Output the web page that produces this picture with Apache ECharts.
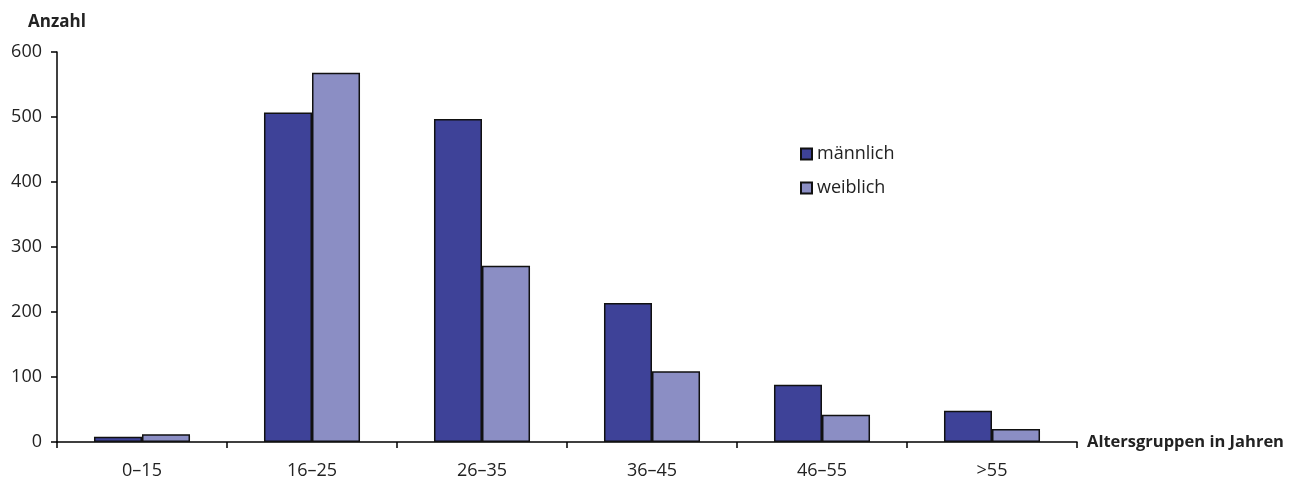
<!DOCTYPE html>
<html><head><meta charset="utf-8">
<script src="https://cdn.jsdelivr.net/npm/echarts@6/dist/echarts.min.js"></script>
<style>html,body{margin:0;padding:0;background:#fff}#c{width:1297px;height:479px}</style>
</head><body><div id="c"></div>
<script>
const categories = ['0–15','16–25','26–35','36–45','46–55','>55'];
const maennlich = [8, 507, 497, 214, 88, 48];
const weiblich = [12, 568, 271, 109, 42, 20];
const yTicks = [0, 100, 200, 300, 400, 500, 600];

const font = 'Open Sans';
const chart = echarts.init(document.getElementById('c'));
chart.setOption({
  animation: false,
  textStyle: { fontFamily: font },
  grid: { left: 57, right: 220, top: 52, bottom: 37, containLabel: false, outerBoundsMode: 'none' },
  legend: {
    orient: 'vertical', left: 795, top: 140, itemWidth: 11, itemHeight: 11, itemGap: 16,
    icon: 'rect',
    textStyle: { fontFamily: font, fontSize: 18, color: '#222' },
    data: ['männlich', 'weiblich']
  },
  xAxis: {
    type: 'category', data: categories,
    name: 'Altersgruppen in Jahren', nameLocation: 'end', nameGap: 10,
    nameTextStyle: { fontFamily: font, fontSize: 16.5, fontWeight: 'bold', color: '#222', padding: [10, 0, 0, 0] },
    axisLine: { lineStyle: { color: '#000', width: 1.5 } },
    axisTick: { show: true, length: 6, inside: false, lineStyle: { color: '#000', width: 1.5 } },
    axisLabel: { fontFamily: font, fontSize: 18, color: '#222', margin: 20 },
    splitLine: { show: false }
  },
  yAxis: {
    type: 'value', min: yTicks[0], max: yTicks[yTicks.length - 1], interval: 100,
    name: 'Anzahl', nameLocation: 'end', nameGap: 21,
    nameTextStyle: { fontFamily: font, fontSize: 17, fontWeight: 'bold', color: '#222', align: 'center' },
    axisLine: { show: true, lineStyle: { color: '#000', width: 1.5 } },
    axisTick: { show: true, length: 6, lineStyle: { color: '#000', width: 1.5 } },
    axisLabel: { fontFamily: font, fontSize: 18, color: '#222', margin: 15 },
    splitLine: { show: false }
  },
  series: [
    { name: 'männlich', type: 'bar', data: maennlich, barGap: '0%', barCategoryGap: '43.5%',
      itemStyle: { color: '#3e4298', borderColor: '#111', borderWidth: 1.5 } },
    { name: 'weiblich', type: 'bar', data: weiblich,
      itemStyle: { color: '#8b8ec4', borderColor: '#111', borderWidth: 1.5 } }
  ]
});
</script></body></html>
